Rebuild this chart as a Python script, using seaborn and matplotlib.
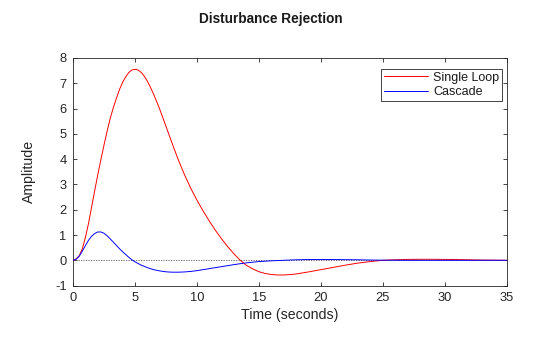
import matplotlib
matplotlib.use("Agg")
import matplotlib.pyplot as plt
import seaborn as sns
import pandas as pd

# Data
t_single = [0, 0.25, 0.5, 0.75, 1.0, 1.25, 1.5, 1.75, 2.0, 2.25, 2.5, 2.75, 3.0,
            3.25, 3.5, 3.75, 4.0, 4.25, 4.5, 4.75, 5.0, 5.25, 5.5, 5.75, 6.0,
            6.25, 6.5, 6.75, 7.0, 7.5, 8.0, 8.5, 9.0, 9.5,
            10.0, 10.5, 11.0, 11.5, 12.0, 12.5, 13.0, 13.5, 14.0, 14.5, 15.0,
            15.5, 16.0, 16.5, 17.0, 17.5, 18.0, 18.5, 19.0, 20.0, 21.0, 22.0, 23.0,
            24.0, 25.0, 26.0, 27.0, 28.0, 29.0, 30.0, 31.0, 32.0, 33.0, 34.0, 35.0]
y_single = [0, 0.05, 0.18, 0.45, 0.9, 1.45, 2.1, 2.75, 3.38, 3.98, 4.55, 5.1, 5.6,
            6.03, 6.4, 6.75, 7.03, 7.25, 7.42, 7.52, 7.55, 7.52, 7.43, 7.28, 7.08,
            6.84, 6.57, 6.28, 5.97, 5.3, 4.62, 3.97, 3.38, 2.85,
            2.38, 1.95, 1.55, 1.18, 0.84, 0.53, 0.25, 0.0, -0.2, -0.34, -0.45,
            -0.52, -0.56, -0.58, -0.58, -0.565, -0.54, -0.5, -0.46, -0.37, -0.28, -0.19, -0.11,
            -0.05, 0.0, 0.02, 0.035, 0.04, 0.04, 0.035, 0.03, 0.02, 0.01, 0.005, 0.0]

t_cascade = [0, 0.25, 0.5, 0.75, 1.0, 1.25, 1.5, 1.75, 2.0, 2.25, 2.5, 2.75, 3.0,
             3.25, 3.5, 3.75, 4.0, 4.25, 4.5, 4.75, 5.0, 5.5, 6.0, 6.5, 7.0, 7.5,
             8.0, 8.5, 9.0, 9.5, 10.0, 10.5, 11.0, 12.0, 13.0, 14.0, 15.0, 16.0,
             17.0, 18.0, 19.0, 20.0, 21.0, 22.0, 23.0, 24.0, 25.0, 27.0, 29.0,
             31.0, 33.0, 35.0]
y_cascade = [0, 0.04, 0.16, 0.36, 0.58, 0.79, 0.95, 1.06, 1.12, 1.12, 1.07, 0.97, 0.85,
             0.72, 0.59, 0.46, 0.34, 0.23, 0.12, 0.02, -0.06, -0.19, -0.29, -0.37, -0.42, -0.455,
             -0.47, -0.47, -0.46, -0.44, -0.41, -0.37, -0.33, -0.25, -0.17, -0.1, -0.05, -0.02,
             0.0, 0.02, 0.03, 0.03, 0.03, 0.025, 0.02, 0.01, 0.005, 0.0, 0.0,
             0.0, 0.0, 0.0]

series_names = ["Single Loop", "Cascade"]
x_ticks = [0, 5, 10, 15, 20, 25, 30, 35]
y_ticks = [-1, 0, 1, 2, 3, 4, 5, 6, 7, 8]

sns.set_style("white")
plt.rcParams["font.family"] = ["Liberation Sans", "DejaVu Sans"]

fig = plt.figure(figsize=(5.6, 3.37), dpi=100)
ax = fig.add_axes([73 / 560, 1 - 285.6 / 337, 433.7 / 560, 227.7 / 337])

df1 = pd.DataFrame({"t": t_single, "y": y_single})
df2 = pd.DataFrame({"t": t_cascade, "y": y_cascade})

ax.axhline(0, color="#555555", linestyle=(0, (1.5, 1.5)), linewidth=0.6, zorder=1)
sns.lineplot(data=df1, x="t", y="y", ax=ax, color="#ff0000", linewidth=0.7,
             label=series_names[0], estimator=None, sort=False, zorder=3)
sns.lineplot(data=df2, x="t", y="y", ax=ax, color="#0000ff", linewidth=0.7,
             label=series_names[1], estimator=None, sort=False, zorder=3)

ax.set_xlim(0, 35)
ax.set_ylim(-1, 8)
ax.set_xticks(x_ticks)
ax.set_yticks(y_ticks)
ax.set_xticklabels([str(v) for v in x_ticks])
ax.set_yticklabels([str(v) for v in y_ticks])

for s in ax.spines.values():
    s.set_visible(True)
    s.set_color("#262626")
    s.set_linewidth(0.6)

ax.tick_params(direction="in", length=3, width=0.6, color="#262626",
               labelsize=9.3, labelcolor="#262626", pad=4.5,
               top=True, right=True, bottom=True, left=True)

ax.set_xlabel("Time (seconds)", fontsize=10.2, color="#262626", labelpad=3)
ax.set_ylabel("Amplitude", fontsize=10.2, color="#262626", labelpad=14)

fig.text(270.6 / 560, 1 - 19 / 337, "Disturbance Rejection", fontsize=9.8,
         fontweight="bold", color="#1a1a1a", ha="center", va="center")

leg = ax.legend(loc="upper right", bbox_to_anchor=((502 - 73) / 433.7, (285.6 - 69) / 227.7),
                borderaxespad=0, fontsize=9.0, frameon=True, fancybox=False,
                framealpha=1, edgecolor="#262626", handlelength=3.5,
                handletextpad=0.45, borderpad=0.22, labelspacing=0.2)
leg.get_frame().set_linewidth(0.6)
for txt in leg.get_texts():
    txt.set_color("#1a1a1a")

fig.savefig("out.png", dpi=100)
